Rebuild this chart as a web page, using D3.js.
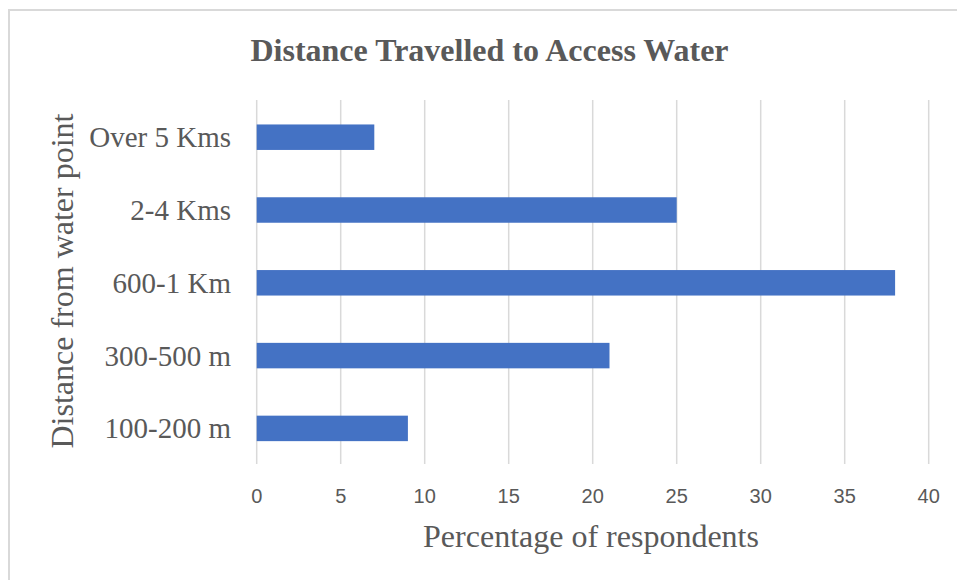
<!DOCTYPE html>
<html>
<head>
<meta charset="utf-8">
<script src="https://cdn.jsdelivr.net/npm/d3@7"></script>
<style>
html,body{margin:0;padding:0;background:#fff;}
svg{display:block;}
</style>
</head>
<body>
<script>
const categories = ["Over 5 Kms", "2-4 Kms", "600-1 Km", "300-500 m", "100-200 m"];
const values = [7, 25, 38, 21, 9];
const xTicks = [0, 5, 10, 15, 20, 25, 30, 35, 40];
const titleText = "Distance Travelled to Access Water";
const xTitle = "Percentage of respondents";
const yTitle = "Distance from water point";

const W = 957, H = 580;
const svg = d3.select("body").append("svg").attr("width", W).attr("height", H);

svg.append("rect").attr("x", 9).attr("y", 10).attr("width", W).attr("height", H)
  .attr("fill", "#fff").attr("stroke", "#d9d9d9").attr("stroke-width", 2);

const x = d3.scaleLinear().domain([0, 40]).range([256.7, 928.7]);
const y = d3.scaleBand().domain(categories).range([100.8, 464.8]).paddingInner(0.65).paddingOuter(0.325);

const textColor = "#595959";

// gridlines
svg.append("g").selectAll("line").data(xTicks).join("line")
  .attr("x1", d => x(d)).attr("x2", d => x(d))
  .attr("y1", 100).attr("y2", 464)
  .attr("stroke", "#d9d9d9").attr("stroke-width", 1.5);

// bars
svg.append("g").selectAll("rect").data(categories).join("rect")
  .attr("x", x(0))
  .attr("y", d => y(d))
  .attr("width", (d, i) => x(values[i]) - x(0))
  .attr("height", y.bandwidth())
  .attr("fill", "#4472C4");

// x tick labels
svg.append("g").selectAll("text").data(xTicks).join("text")
  .attr("x", d => x(d)).attr("y", 503)
  .attr("text-anchor", "middle")
  .attr("font-family", "'Liberation Sans', Arial, sans-serif")
  .attr("font-size", 20)
  .attr("fill", textColor)
  .text(d => d);

// y labels
svg.append("g").selectAll("text").data(categories).join("text")
  .attr("x", 231).attr("y", d => y(d) + y.bandwidth() / 2 + 10)
  .attr("text-anchor", "end")
  .attr("font-family", "'Liberation Serif', 'Times New Roman', serif")
  .attr("font-size", 29)
  .attr("fill", textColor)
  .text(d => d);

// title
svg.append("text")
  .attr("x", 489.5).attr("y", 61)
  .attr("text-anchor", "middle")
  .attr("font-family", "'Liberation Serif', 'Times New Roman', serif")
  .attr("font-weight", "bold")
  .attr("font-size", 32)
  .attr("fill", textColor)
  .text(titleText);

// x title
svg.append("text")
  .attr("x", 591).attr("y", 547)
  .attr("text-anchor", "middle")
  .attr("font-family", "'Liberation Serif', 'Times New Roman', serif")
  .attr("font-size", 32)
  .attr("fill", textColor)
  .text(xTitle);

// y title
svg.append("text")
  .attr("transform", "translate(73,281) rotate(-90)")
  .attr("text-anchor", "middle")
  .attr("font-family", "'Liberation Serif', 'Times New Roman', serif")
  .attr("font-size", 32)
  .attr("fill", textColor)
  .text(yTitle);
</script>
</body>
</html>
